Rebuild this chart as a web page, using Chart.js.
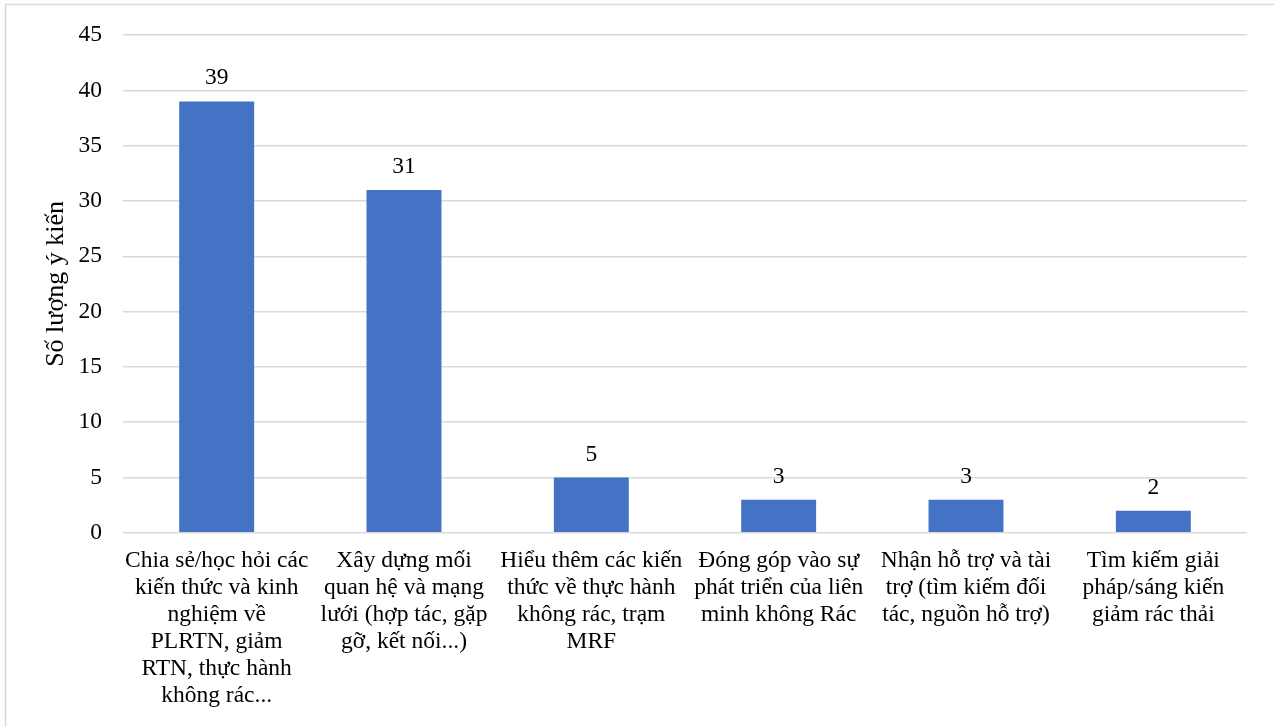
<!DOCTYPE html>
<html>
<head>
<meta charset="utf-8">
<script src="https://cdn.jsdelivr.net/npm/chart.js@4/dist/chart.umd.min.js"></script>
<style>
  html, body { margin: 0; padding: 0; background: #fff; }
  #wrap { position: absolute; left: 0; top: 0; width: 1274px; height: 727px; }
</style>
</head>
<body>
<div id="wrap"><canvas id="c" width="1274" height="727"></canvas></div>
<script>
const categories = [
  ["Chia sẻ/học hỏi các", "kiến thức và kinh", "nghiệm về", "PLRTN, giảm", "RTN, thực hành", "không rác..."],
  ["Xây dựng mối", "quan hệ và mạng", "lưới (hợp tác, gặp", "gỡ, kết nối...)"],
  ["Hiểu thêm các kiến", "thức về thực hành", "không rác, trạm", "MRF"],
  ["Đóng góp vào sự", "phát triển của liên", "minh không Rác"],
  ["Nhận hỗ trợ và tài", "trợ (tìm kiếm đối", "tác, nguồn hỗ trợ)"],
  ["Tìm kiếm giải", "pháp/sáng kiến", "giảm rác thải"]
];
const values = [39, 31, 5, 3, 3, 2];
const yAxisTitle = "Số lượng ý kiến";
const yMin = 0, yMax = 45, yStep = 5;

const FONT = "'Liberation Serif', 'Times New Roman', serif";

const framePlugin = {
  id: 'frame',
  beforeDraw(chart) {
    const ctx = chart.ctx;
    ctx.save();
    ctx.fillStyle = '#fff';
    ctx.fillRect(0, 0, chart.width, chart.height);
    ctx.strokeStyle = '#d9d9d9';
    ctx.lineWidth = 1.5;
    ctx.strokeRect(5.5, 4.5, chart.width + 10, chart.height + 10);
    ctx.restore();
  }
};

const labelPlugin = {
  id: 'valueLabels',
  afterDatasetsDraw(chart) {
    const ctx = chart.ctx;
    const meta = chart.getDatasetMeta(0);
    ctx.save();
    ctx.font = "23.5px " + FONT;
    ctx.fillStyle = '#000';
    ctx.textAlign = 'center';
    ctx.textBaseline = 'alphabetic';
    meta.data.forEach((bar, i) => {
      ctx.fillText(String(values[i]), bar.x, bar.y - 17);
    });
    ctx.restore();
  }
};

new Chart(document.getElementById('c'), {
  type: 'bar',
  data: {
    labels: categories,
    datasets: [{
      data: values,
      backgroundColor: '#4472C4',
      borderWidth: 0,
      barPercentage: 0.4,
      categoryPercentage: 1.0
    }]
  },
  options: {
    responsive: false,
    animation: false,
    devicePixelRatio: 1,
    layout: { padding: { left: 37, right: 27, top: 31, bottom: 4 } },
    plugins: {
      legend: { display: false },
      tooltip: { enabled: false }
    },
    scales: {
      x: {
        grid: { display: false, drawTicks: false },
        border: { display: false },
        ticks: {
          color: '#000',
          font: { family: FONT, size: 23.5, lineHeight: 1.15 },
          padding: 14,
          maxRotation: 0,
          minRotation: 0,
          autoSkip: false
        }
      },
      y: {
        min: yMin,
        max: yMax,
        afterFit(scale) { scale.width = 86; },
        grid: { color: '#d9d9d9', lineWidth: 1.5, drawTicks: false },
        border: { display: false },
        ticks: {
          stepSize: yStep,
          color: '#000',
          font: { family: FONT, size: 23.5 },
          padding: 21
        },
        title: {
          display: true,
          text: yAxisTitle,
          color: '#000',
          font: { family: FONT, size: 26, lineHeight: 1.2 },
          padding: { top: 4, bottom: 4 }
        }
      }
    }
  },
  plugins: [framePlugin, labelPlugin]
});
</script>
</body>
</html>
